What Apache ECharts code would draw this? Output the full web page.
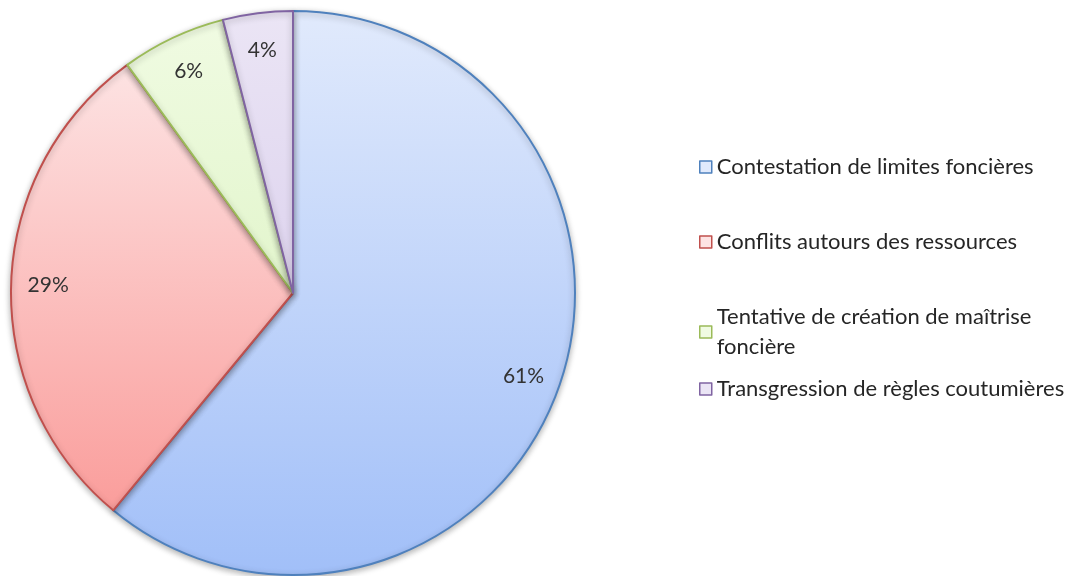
<!DOCTYPE html>
<html>
<head>
<meta charset="utf-8">
<script src="https://cdn.jsdelivr.net/npm/echarts@6/dist/echarts.min.js"></script>
<style>
  html, body { margin: 0; padding: 0; background: #fff; }
  #chart { width: 1076px; height: 576px; }
</style>
</head>
<body>
<div id="chart"></div>
<script>
// catégories et valeurs (%)
var categories = [
  'Contestation de limites foncières',
  'Conflits autours des ressources',
  'Tentative de création de maîtrise\nfoncière',
  'Transgression de règles coutumières'
];
var values = [61, 29, 6, 4];

var borderColors = ['#4f81bd', '#c0504d', '#9bbb59', '#8064a2'];
var topColors = ['#e1eafc', '#fde3e3', '#f0fbe2', '#ebe5f5'];
var bottomColors = ['#a1bff8', '#fa9d9b', '#e2f5cc', '#ddd3ee'];

var chart = echarts.init(document.getElementById('chart'));

var pieData = values.map(function (v, i) {
  return {
    name: categories[i],
    value: v,
    itemStyle: {
      color: new echarts.graphic.LinearGradient(0, 0, 0, 1, [
        { offset: 0, color: topColors[i] },
        { offset: 1, color: bottomColors[i] }
      ]),
      borderColor: borderColors[i],
      borderWidth: 2
    }
  };
});

// anneau transparent pour placer les étiquettes près du bord
var labelData = values.map(function (v, i) {
  return { name: categories[i], value: v };
});

var legendText = {
  fontFamily: 'Lato',
  fontSize: 22,
  color: '#262626',
  lineHeight: 30
};

function legendItems(idx) {
  return idx.map(function (i) {
    return {
      name: categories[i],
      itemStyle: { color: topColors[i], borderColor: borderColors[i], borderWidth: 1.5 }
    };
  });
}

var option = {
  animation: false,
  legend: [
    {
      orient: 'vertical',
      left: 694,
      top: 147,
      itemWidth: 12,
      itemHeight: 12,
      itemGap: 45,
      icon: 'rect',
      textStyle: legendText,
      data: legendItems([0, 1, 2])
    },
    {
      orient: 'vertical',
      left: 694,
      top: 369,
      itemWidth: 12,
      itemHeight: 12,
      icon: 'rect',
      textStyle: legendText,
      data: legendItems([3])
    }
  ],
  series: [
    {
      type: 'pie',
      center: [293, 293],
      radius: 282,
      startAngle: 90,
      clockwise: true,
      label: { show: false },
      labelLine: { show: false },
      emphasis: { disabled: true },
      itemStyle: {
        shadowBlur: 6,
        shadowColor: 'rgba(0,0,0,0.3)',
        shadowOffsetY: 2
      },
      data: pieData
    },
    {
      type: 'pie',
      center: [293, 293],
      radius: [208, 276],
      startAngle: 90,
      clockwise: true,
      silent: true,
      legendHoverLink: false,
      itemStyle: { color: 'transparent', borderWidth: 0 },
      label: {
        show: true,
        position: 'inside',
        formatter: '{c}%',
        fontFamily: 'Lato',
        fontSize: 21,
        color: '#333'
      },
      labelLine: { show: false },
      data: labelData
    }
  ]
};

chart.setOption(option);
</script>
</body>
</html>
